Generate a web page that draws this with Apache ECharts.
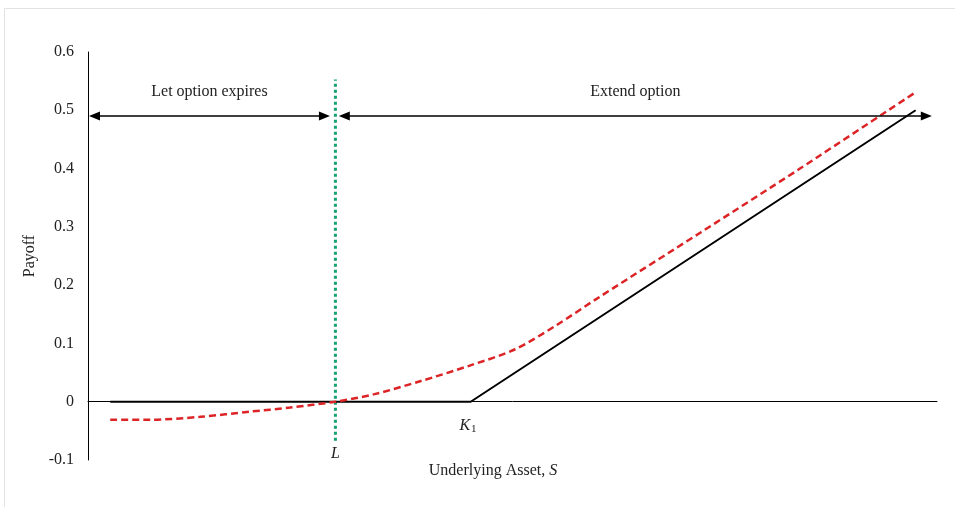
<!DOCTYPE html>
<html>
<head>
<meta charset="utf-8">
<script src="https://cdn.jsdelivr.net/npm/echarts@6/dist/echarts.min.js"></script>
<style>
  html, body { margin: 0; padding: 0; background: #fff; }
  #chart { width: 955px; height: 507px; }
</style>
</head>
<body>
<div id="chart"></div>
<script>
// Extendible option payoff against the underlying asset price S
const yTicks = ['-0.1', '0', '0.1', '0.2', '0.3', '0.4', '0.5', '0.6'];

// Key asset levels: extension barrier L and strike K1
const levelL = 0.278;
const levelK1 = 0.43;
const sMax = 0.954;

// Payoff at expiry (solid black)
const payoffS = [0.025, 0.43, 0.93];
const payoffV = [0, 0, 0.5];

// Value of the extendible option (red dashed)
const extS = [0.025, 0.07, 0.126, 0.182, 0.227, 0.278, 0.322, 0.373, 0.429, 0.48, 0.525, 0.575, 0.688, 0.8, 0.929];
const extV = [-0.031, -0.031, -0.026, -0.017, -0.01, 0, 0.013, 0.035, 0.062, 0.09, 0.13, 0.18, 0.29, 0.4, 0.53];

// Barrier marker span and region arrows
const barrierSpan = [-0.067, 0.553];
const arrowLevel = 0.49;
const leftRegion = [0.0073, 0.2657];
const rightRegion = [0.288, 0.942];
const regionNames = ['Let option expires', 'Extend option'];

const FONT = '"Liberation Serif", "DejaVu Serif", serif';

const zip = (xs, ys) => xs.map((x, i) => [x, ys[i]]);

const chart = echarts.init(document.getElementById('chart'));

const arrowSeg = (range, name) => [
  { coord: [range[0], arrowLevel], name: name },
  { coord: [range[1], arrowLevel] }
];

chart.setOption({
  animation: false,
  backgroundColor: '#ffffff',
  textStyle: { fontFamily: FONT },
  grid: { left: 88, right: 18, top: 52, bottom: 47, containLabel: false },
  xAxis: {
    type: 'value',
    min: 0,
    max: sMax,
    axisLine: { onZero: true, lineStyle: { color: '#000', width: 1 } },
    axisTick: { show: false },
    axisLabel: { show: false },
    splitLine: { show: false }
  },
  yAxis: {
    type: 'value',
    min: -0.1,
    max: 0.6,
    interval: 0.1,
    name: 'Payoff',
    nameLocation: 'middle',
    nameRotate: 90,
    nameGap: 47,
    nameTextStyle: { fontFamily: FONT, fontSize: 16, color: '#222' },
    axisLine: { show: true, lineStyle: { color: '#000', width: 1 } },
    axisTick: { show: false },
    splitLine: { show: false },
    axisLabel: {
      margin: 14,
      fontFamily: FONT,
      fontSize: 16,
      color: '#222',
      formatter: (v) => yTicks[Math.round((v + 0.1) * 10)]
    }
  },
  series: [
    {
      name: 'Payoff at expiry',
      type: 'line',
      data: zip(payoffS, payoffV),
      symbol: 'none',
      lineStyle: { color: '#000', width: 2 },
      z: 3,
      markLine: {
        silent: true,
        symbol: ['triangle', 'triangle'],
        symbolSize: [9, 11],
        lineStyle: { type: 'solid', color: '#000', width: 1.5 },
        label: {
          show: true,
          position: 'insideMiddleTop',
          distance: 16,
          formatter: (p) => p.name,
          fontFamily: FONT,
          fontSize: 16,
          color: '#222'
        },
        data: [
          arrowSeg(leftRegion, regionNames[0]),
          arrowSeg(rightRegion, regionNames[1])
        ]
      },
      markPoint: {
        silent: true,
        symbol: 'circle',
        symbolSize: 0,
        label: {
          show: true,
          position: 'inside',
          fontFamily: FONT,
          color: '#222',
          formatter: (p) => p.name,
          rich: {
            it: { fontStyle: 'italic', fontSize: 16, fontFamily: FONT, color: '#222' },
            sub: { fontSize: 11, fontFamily: FONT, color: '#222', verticalAlign: 'bottom', padding: [6, 0, 0, 1] }
          }
        },
        data: [
          { name: '{it|K}{sub|1}', coord: [levelK1 - 0.003, -0.041] },
          { name: '{it|L}', coord: [levelL, -0.089] }
        ]
      }
    },
    {
      name: 'Extendible option',
      type: 'line',
      data: zip(extS, extV),
      symbol: 'none',
      smooth: 0.3,
      lineStyle: { color: '#dc2427', width: 2.5, type: [7, 4] },
      z: 4
    },
    {
      name: 'Barrier L',
      type: 'line',
      data: [[levelL, barrierSpan[0]], [levelL, barrierSpan[1]]],
      symbol: 'none',
      lineStyle: { color: '#17a074', width: 3, type: [3, 3] },
      z: 2
    }
  ],
  graphic: [
    {
      type: 'rect',
      silent: true,
      shape: { x: 4.5, y: 8.5, width: 980, height: 530 },
      style: { fill: 'none', stroke: '#e2e2e2', lineWidth: 1 }
    },
    {
      type: 'text',
      silent: true,
      x: 493,
      y: 471,
      style: {
        text: 'Underlying Asset, {it|S}',
        align: 'center',
        verticalAlign: 'middle',
        font: '16px "Liberation Serif", serif',
        fill: '#222',
        rich: {
          it: { fontStyle: 'italic', fontSize: 16, fontFamily: FONT, fill: '#222' }
        }
      }
    }
  ]
});
</script>
</body>
</html>
